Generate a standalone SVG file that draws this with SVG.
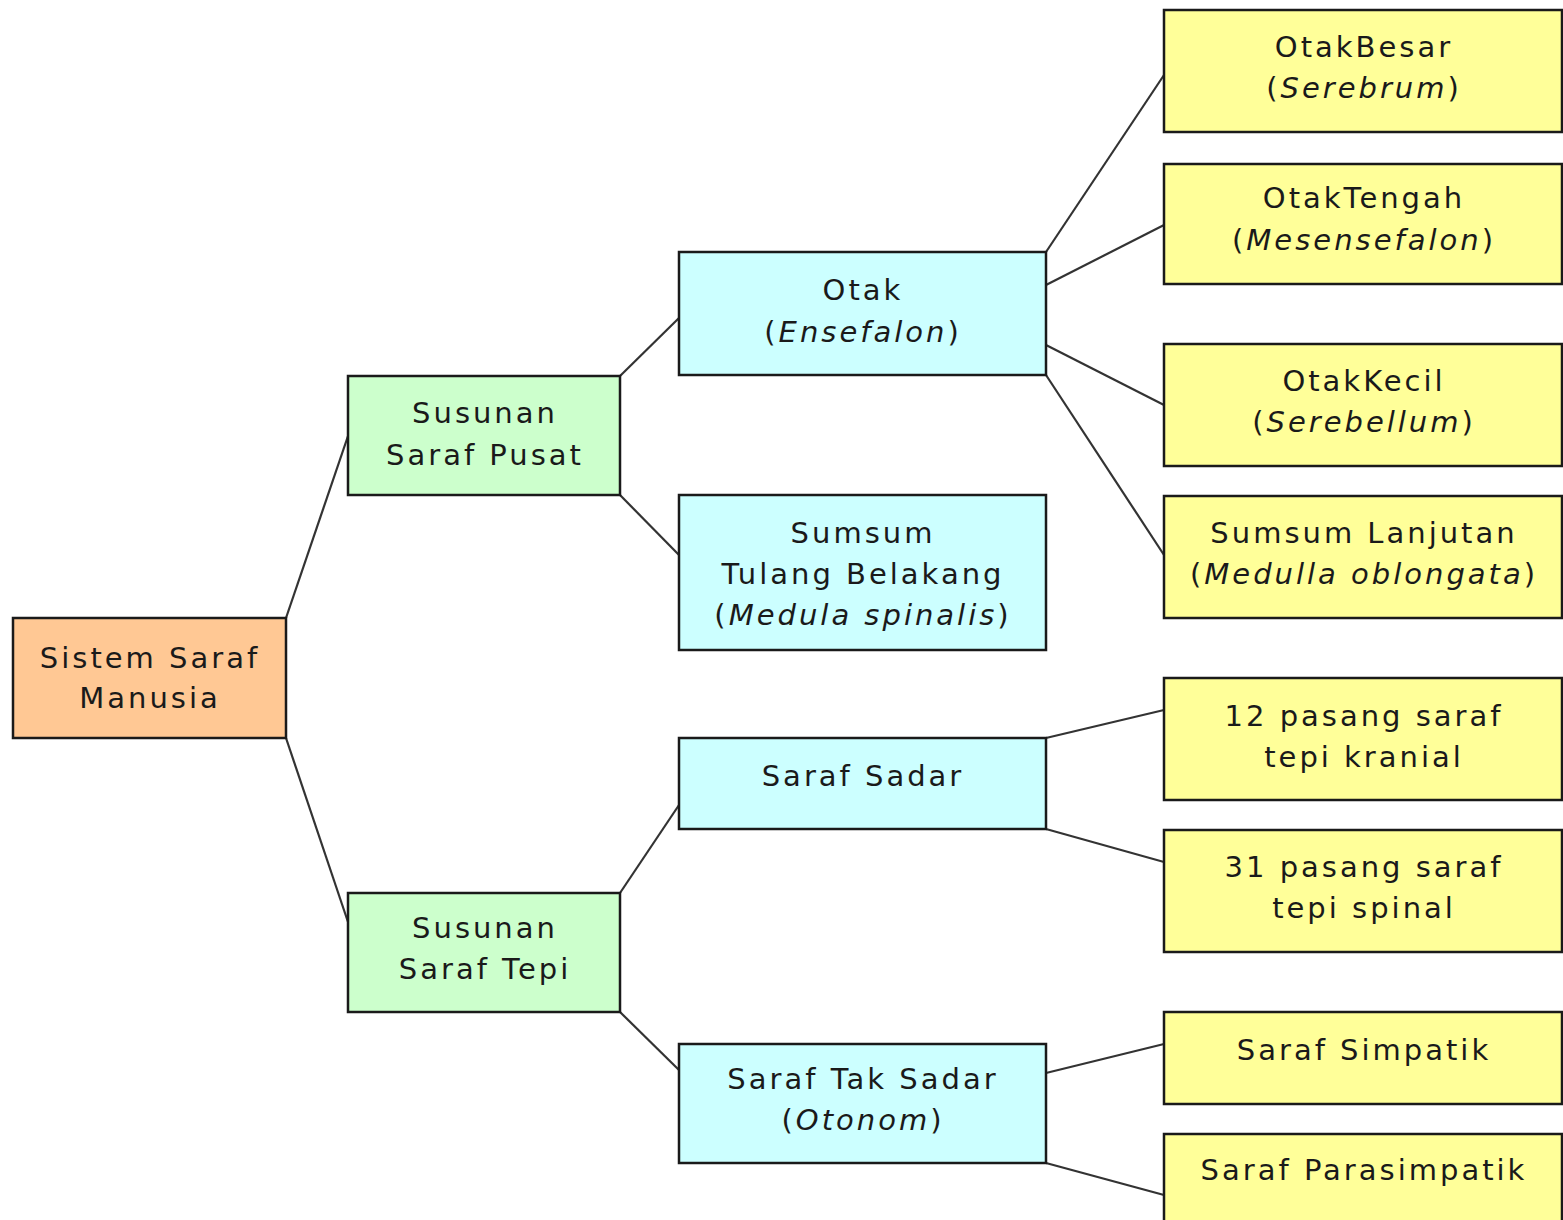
<svg xmlns="http://www.w3.org/2000/svg" width="1563" height="1220" viewBox="0 0 1563 1220">
<style>
.b{stroke:#1a1a1a;stroke-width:2.5}
.r{fill:#FFC894}
.g{fill:#CCFFCC}
.c{fill:#CCFFFF}
.y{fill:#FFFF99}
text{font-family:"DejaVu Sans",Verdana,sans-serif;font-size:29px;fill:#1a1a1a;text-anchor:middle;letter-spacing:3px}
.i{font-style:italic}
#conn line{stroke:#333;stroke-width:2.2}
</style>
<rect width="1563" height="1220" fill="#ffffff"/>
<g id="conn">
<line x1="286" y1="618" x2="348" y2="436"/>
<line x1="286" y1="738" x2="348" y2="922"/>
<line x1="620" y1="376" x2="679" y2="318"/>
<line x1="620" y1="495" x2="679" y2="555"/>
<line x1="1046" y1="252" x2="1164" y2="75"/>
<line x1="1046" y1="285" x2="1164" y2="225"/>
<line x1="1046" y1="345" x2="1164" y2="405"/>
<line x1="1046" y1="375" x2="1164" y2="555"/>
<line x1="620" y1="893" x2="679" y2="805"/>
<line x1="620" y1="1012" x2="679" y2="1070"/>
<line x1="1046" y1="738" x2="1164" y2="710"/>
<line x1="1046" y1="829" x2="1164" y2="862"/>
<line x1="1046" y1="1073" x2="1164" y2="1044"/>
<line x1="1046" y1="1163" x2="1164" y2="1195"/>
</g>
<g id="root"><rect class="b r" x="13" y="618" width="273" height="120"/><text x="150" y="668">Sistem Saraf</text><text x="150" y="708">Manusia</text></g>
<g id="pusat"><rect class="b g" x="348" y="376" width="272" height="119"/><text x="485" y="423">Susunan</text><text x="485" y="465">Saraf Pusat</text></g>
<g id="tepi"><rect class="b g" x="348" y="893" width="272" height="119"/><text x="485" y="938">Susunan</text><text x="485" y="979">Saraf Tepi</text></g>
<g id="otak"><rect class="b c" x="679" y="252" width="367" height="123"/><text x="863" y="300">Otak</text><text x="863" y="342">(<tspan class="i">Ensefalon</tspan>)</text></g>
<g id="sumsum"><rect class="b c" x="679" y="495" width="367" height="155"/><text x="863" y="543">Sumsum</text><text x="863" y="584">Tulang Belakang</text><text x="863" y="625">(<tspan class="i">Medula spinalis</tspan>)</text></g>
<g id="sadar"><rect class="b c" x="679" y="738" width="367" height="91"/><text x="863" y="786">Saraf Sadar</text></g>
<g id="taksadar"><rect class="b c" x="679" y="1044" width="367" height="119"/><text x="863" y="1089">Saraf Tak Sadar</text><text x="863" y="1130">(<tspan class="i">Otonom</tspan>)</text></g>
<g id="otakbesar"><rect class="b y" x="1164" y="10" width="398" height="122"/><text x="1364" y="57">OtakBesar</text><text x="1364" y="98">(<tspan class="i">Serebrum</tspan>)</text></g>
<g id="otaktengah"><rect class="b y" x="1164" y="164" width="398" height="120"/><text x="1364" y="208">OtakTengah</text><text x="1364" y="250">(<tspan class="i">Mesensefalon</tspan>)</text></g>
<g id="otakkecil"><rect class="b y" x="1164" y="344" width="398" height="122"/><text x="1364" y="391">OtakKecil</text><text x="1364" y="432">(<tspan class="i">Serebellum</tspan>)</text></g>
<g id="lanjutan"><rect class="b y" x="1164" y="496" width="398" height="122"/><text x="1364" y="543">Sumsum Lanjutan</text><text x="1364" y="584">(<tspan class="i">Medulla oblongata</tspan>)</text></g>
<g id="kranial"><rect class="b y" x="1164" y="678" width="398" height="122"/><text x="1364" y="726">12 pasang saraf</text><text x="1364" y="767">tepi kranial</text></g>
<g id="spinal"><rect class="b y" x="1164" y="830" width="398" height="122"/><text x="1364" y="877">31 pasang saraf</text><text x="1364" y="918">tepi spinal</text></g>
<g id="simpatik"><rect class="b y" x="1164" y="1012" width="398" height="92"/><text x="1364" y="1060">Saraf Simpatik</text></g>
<g id="parasimpatik"><rect class="b y" x="1164" y="1134" width="398" height="100"/><text x="1364" y="1180">Saraf Parasimpatik</text></g>
</svg>
